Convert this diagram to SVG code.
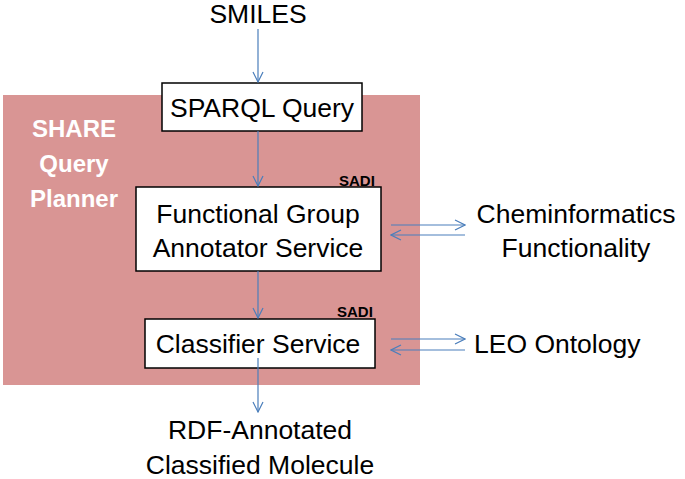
<svg xmlns="http://www.w3.org/2000/svg" width="685" height="479" viewBox="0 0 685 479">
<defs>
<marker id="ah" viewBox="0 0 12 12" refX="11" refY="6" markerWidth="12" markerHeight="12" markerUnits="userSpaceOnUse" orient="auto">
<path d="M1,1 L11,6 L1,11" fill="none" stroke="#4a7ebb" stroke-width="1.2"/>
</marker>
<style>
.t{font-family:"Liberation Sans",Arial,sans-serif;font-size:26.5px;fill:#000}
.b{fill:#fff;stroke:#000;stroke-width:1.5}
.c{stroke:#4a7ebb;stroke-width:1.2;fill:none;marker-end:url(#ah)}
.sadi{font-family:"Liberation Sans",Arial,sans-serif;font-size:15px;font-weight:bold;fill:#000}
.p{font-family:"Liberation Sans",Arial,sans-serif;font-size:24px;font-weight:bold;fill:#fff}
</style>
</defs>
<rect id="planner-bg" x="3" y="95" width="417" height="290" fill="#d99594"/>
<g id="planner-label">
<text class="p" x="74" y="137" text-anchor="middle">SHARE</text>
<text class="p" x="74" y="172" text-anchor="middle">Query</text>
<text class="p" x="74" y="207" text-anchor="middle">Planner</text>
</g>
<g id="smiles"><text class="t" x="258" y="23" text-anchor="middle">SMILES</text></g>
<g id="sparql">
<rect class="b" x="162" y="83" width="200" height="48"/>
<text class="t" x="262" y="117" text-anchor="middle">SPARQL Query</text>
</g>
<g id="fga">
<text class="sadi" x="339" y="186">SADI</text>
<rect class="b" x="136" y="187" width="245" height="84"/>
<text class="t" x="258" y="223" text-anchor="middle">Functional Group</text>
<text class="t" x="258" y="257" text-anchor="middle">Annotator Service</text>
</g>
<g id="classifier">
<text class="sadi" x="337" y="317">SADI</text>
<rect class="b" x="145" y="319" width="230" height="49"/>
<text class="t" x="258" y="353" text-anchor="middle">Classifier Service</text>
</g>
<g id="chem">
<text class="t" x="576" y="223" text-anchor="middle">Cheminformatics</text>
<text class="t" x="576" y="257" text-anchor="middle">Functionality</text>
</g>
<g id="leo"><text class="t" x="474" y="353">LEO Ontology</text></g>
<g id="output">
<text class="t" x="260" y="439" text-anchor="middle">RDF-Annotated</text>
<text class="t" x="260" y="474" text-anchor="middle">Classified Molecule</text>
</g>
<g id="connectors">
<line class="c" x1="258" y1="29" x2="258" y2="82"/>
<line class="c" x1="258" y1="131" x2="258" y2="186"/>
<line class="c" x1="258" y1="271" x2="258" y2="318"/>
<line class="c" x1="258" y1="358" x2="258" y2="412"/>
<line class="c" x1="391" y1="225" x2="465" y2="225"/>
<line class="c" x1="465" y1="235" x2="391" y2="235"/>
<line class="c" x1="391" y1="339" x2="465" y2="339"/>
<line class="c" x1="465" y1="350" x2="391" y2="350"/>
</g>
</svg>
